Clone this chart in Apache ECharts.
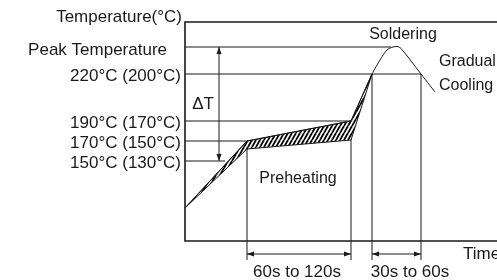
<!DOCTYPE html>
<html><head><meta charset="utf-8">
<script src="https://cdn.jsdelivr.net/npm/echarts@6/dist/echarts.min.js"></script>
<style>html,body{margin:0;padding:0;background:#fff}#c{width:497px;height:280px}</style>
</head><body><div id="c"></div>
<script>
// ---- schematic data (temperature axis is a schematic, not to scale) ----
const levelLabels = ['Peak Temperature', '220\u00b0C (200\u00b0C)', '190\u00b0C (170\u00b0C)', '170\u00b0C (150\u00b0C)', '150\u00b0C (130\u00b0C)'];
const levelValues = [194, 167, 120, 100, 80];
const levelLineEnds = [206, 236, 166, 62, 40];     // time where each guide line meets the profile
const timeMarks = [62, 166, 187, 236];              // preheat start/end, soldering start/end
const timeMarkTops = [100, 120, 167, 167];
const profileUpperT = [0, 62, 166, 187];
const profileUpperV = [33, 100, 120, 167];
const profileLowerT = [0, 62, 166, 187];
const profileLowerV = [33, 92, 101, 167];
const peakT = [187, 195, 202, 208, 212, 216, 236, 250];
const peakV = [167, 181, 191, 194, 194.5, 192.5, 167, 149];
const spanLabels = ['60s to 120s', '30s to 60s'];
const deltaLabel = '\u0394T';

const INK = '#1a1a1a';
const FONT = 'Liberation Sans, Arial, sans-serif';

// hatch pattern
function hatch() {
  const w = 4, h = 7;
  const cv = document.createElement('canvas');
  cv.width = w; cv.height = h;
  const g = cv.getContext('2d');
  g.fillStyle = '#fff'; g.fillRect(0, 0, w, h);
  g.strokeStyle = '#000'; g.lineWidth = 1.8;
  for (let k = -1; k <= 1; k++) {
    g.beginPath(); g.moveTo(k * w, h); g.lineTo(k * w + w, 0); g.stroke();
  }
  return cv;
}
const pattern = { image: hatch(), repeat: 'repeat' };

function arrowHead(tip, dir) { // dir: unit vector pointing towards tip
  const L = 7, W = 2.5;
  const bx = tip[0] - dir[0] * L, by = tip[1] - dir[1] * L;
  const nx = -dir[1], ny = dir[0];
  return { type: 'polygon', shape: { points: [tip, [bx + nx * W, by + ny * W], [bx - nx * W, by - ny * W]] }, style: { fill: INK } };
}
function seg(a, b, lw) {
  return { type: 'line', shape: { x1: a[0], y1: a[1], x2: b[0], y2: b[1] }, style: { stroke: INK, lineWidth: lw || 1 } };
}
function txt(p, s, align, dx, dy, size) {
  return { type: 'text', x: p[0] + (dx || 0), y: p[1] + (dy || 0),
    style: { text: s, fill: INK, font: (size || 16) + 'px ' + FONT, align: align || 'center', verticalAlign: 'middle' } };
}

function renderAll(params, api) {
  const c = p => api.coord(p);
  const ch = [];
  levelValues.forEach((v, i) => ch.push(seg(c([0, v]), c([levelLineEnds[i], v]), 1)));
  timeMarks.forEach((t, i) => ch.push(seg(c([t, timeMarkTops[i]]), c([t, -19]), 1)));
  const poly = [];
  for (let i = 0; i < profileUpperT.length; i++) poly.push(c([profileUpperT[i], profileUpperV[i]]));
  for (let i = profileLowerT.length - 1; i >= 0; i--) poly.push(c([profileLowerT[i], profileLowerV[i]]));
  ch.push({ type: 'polygon', shape: { points: poly }, style: { fill: pattern, stroke: INK, lineWidth: 1 } });
  const dTop = c([34, levelValues[0]]), dBot = c([34, levelValues[4]]);
  ch.push(seg(dTop, dBot, 1));
  ch.push(arrowHead(dTop, [0, -1]));
  ch.push(arrowHead(dBot, [0, 1]));
  ch.push(txt(c([34, (levelValues[0] + levelValues[4]) / 2]), deltaLabel, 'right', -5, 0, 17));
  [[timeMarks[0], timeMarks[1]], [timeMarks[2], timeMarks[3]]].forEach(([a, b]) => {
    const pa = c([a, -13]), pb = c([b, -13]);
    ch.push(seg(pa, pb, 1));
    ch.push(arrowHead(pa, [-1, 0]));
    ch.push(arrowHead(pb, [1, 0]));
  });
  ch.push(txt(c([(timeMarks[0] + timeMarks[1]) / 2, -31]), spanLabels[0], 'center', -2, 0, 17));
  ch.push(txt(c([225, -31]), spanLabels[1], 'center', 0, 0, 17));
  ch.push(txt(c([(timeMarks[0] + timeMarks[1]) / 2, 62]), 'Preheating', 'center', -1, 0, 16));
  ch.push(txt(c([218, 206]), 'Soldering', 'center', 0, 0, 16));
  ch.push(txt(c([254, 179]), 'Gradual', 'left', 0, 0, 16));
  ch.push(txt(c([254, 155]), 'Cooling', 'left', 0, 0, 16));
  ch.push(txt(c([278, -13]), 'Time', 'left', 0, 0, 17));
  return { type: 'group', children: ch };
}

const chart = echarts.init(document.getElementById('c'), null, { renderer: 'canvas' });
chart.setOption({
  animation: false,
  backgroundColor: '#fff',
  grid: { left: 185, width: 332, top: 22, height: 219, outerBoundsMode: 'none', containLabel: false,
    show: true, borderColor: INK, borderWidth: 1.6, backgroundColor: 'transparent' },
  xAxis: { type: 'value', min: 0, max: 332, axisLine: { show: false }, axisTick: { show: false }, axisLabel: { show: false }, splitLine: { show: false } },
  yAxis: {
    type: 'value', min: 0, max: 219,
    name: 'Temperature(\u00b0C)', nameLocation: 'end', nameGap: 5,
    nameTextStyle: { color: INK, fontSize: 17, fontFamily: FONT, align: 'right', verticalAlign: 'middle', padding: [0, 3, 0, 0] },
    axisLine: { show: false }, axisTick: { show: false }, splitLine: { show: false },
    axisLabel: {
      customValues: levelValues, margin: 4, color: INK, fontSize: 17, fontFamily: FONT,
      verticalAlign: 'middle', padding: [4, 0, 0, 0],
      formatter: v => { const i = levelValues.indexOf(v); return i === 0 ? '{p|' + levelLabels[i] + '}' : (i >= 0 ? levelLabels[i] : ''); },
      rich: { p: { fontSize: 17, fontFamily: FONT, color: INK, padding: [2, 14, 0, 0] } }
    }
  },
  series: [
    { type: 'custom', renderItem: renderAll, data: [[0, 0]], clip: false, silent: true, z: 3 },
    { type: 'line', data: peakT.map((t, i) => [t, peakV[i]]), smooth: 0.35, symbol: 'none', lineStyle: { color: INK, width: 1 }, clip: false, silent: true, z: 4 },
    { type: 'line', data: profileUpperT.map((t, i) => [t, profileUpperV[i]]), symbol: 'none', lineStyle: { color: INK, width: 1 }, silent: true, z: 4 }
  ]
});
</script>
</body></html>
